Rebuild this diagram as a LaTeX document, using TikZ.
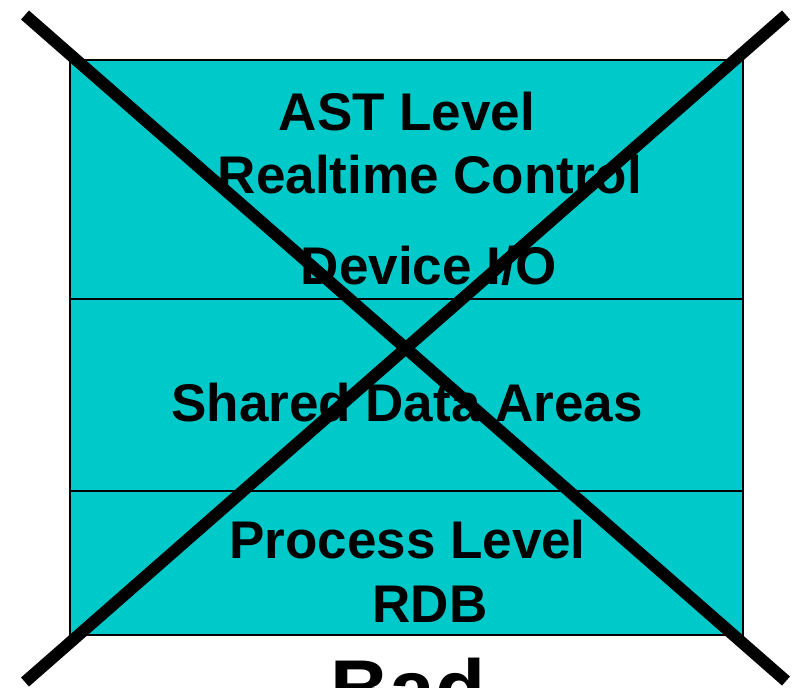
\documentclass[tikz,border=0pt]{standalone}
\usepackage{fontspec}
\setmainfont{Liberation Sans}
\definecolor{boxcyan}{RGB}{0,201,201}
\begin{document}
\begin{tikzpicture}[x=1pt,y=-1pt,
  lbl/.style={anchor=base,inner sep=0pt,font=\fontsize{53}{60}\selectfont\bfseries},
  badlbl/.style={anchor=base,inner sep=0pt,font=\fontsize{82}{90}\selectfont\bfseries},
  cross/.style={line width=12pt,line cap=butt}]
\useasboundingbox (0,0) rectangle (793,688);
\fill[boxcyan] (70,60) rectangle (743,635);
\draw[line width=1.5pt] (70,60) rectangle (743,635);
\draw[line width=1.2pt] (70,299) -- (743,299);
\draw[line width=1.2pt] (70,491) -- (743,491);
\node[lbl] (ast) at (407,130) {AST Level};
\node[lbl] (rt) at (430,193) {Realtime Control};
\node[lbl] (dev) at (429,284) {Device I/O};
\node[lbl] (shd) at (407,421) {Shared Data Areas};
\node[lbl] (proc) at (407.5,558) {Process Level};
\node[lbl] (rdb) at (430,622) {RDB};
\node[badlbl] (bad) at (408,717) {Bad};
\coordinate (a1) at (25,15);
\coordinate (a2) at (786,681);
\coordinate (b1) at (786,15);
\coordinate (b2) at (25,682);
\draw[cross] (a1) -- (a2);
\draw[cross] (b1) -- (b2);
\end{tikzpicture}
\end{document}
